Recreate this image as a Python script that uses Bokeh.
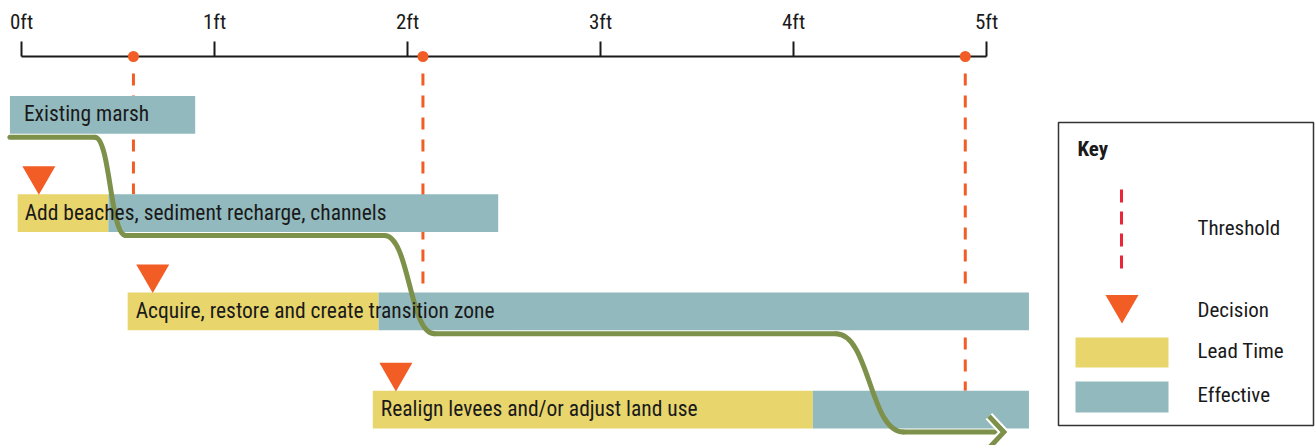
from bokeh.plotting import figure
from bokeh.models import Range1d
from bokeh.core.properties import value
from bokeh.embed import file_html
from bokeh.resources import INLINE

# ---------------- data ----------------
actions = ["Existing marsh",
           "Add beaches, sediment recharge, channels",
           "Acquire, restore and create transition zone",
           "Realign levees and/or adjust land use"]
lead_start = [None, -0.02, 0.55, 1.82]
lead_end = [None, 0.45, 1.85, 4.10]
effective_start = [-0.06, 0.45, 1.85, 4.10]
effective_end = [0.90, 2.47, 5.22, 5.22]
decision_at = [None, 0.09, 0.68, 1.94]
thresholds = [0.58, 2.08, 4.89]
tick_values = [0, 1, 2, 3, 4, 5]
tick_labels = ["0ft", "1ft", "2ft", "3ft", "4ft", "5ft"]
path_start = -0.06
drop_start = [0.38, 1.88, 4.22]
drop_end = [0.54, 2.14, 4.57]
path_end = 5.09
key_labels = ["Threshold", "Decision", "Lead Time", "Effective"]

# ---------------- style / layout ----------------
TEAL = "#92b9bd"
YELLOW = "#e8d56c"
ORANGE = "#f25c25"
GREEN = "#7d914b"
RED = "#e82638"
INK = "#1a1a1a"
FONT = value("Roboto Condensed")

W, H, M = 1315, 445, 0
X0, XS = 21.0, 193.0     # page px of 0 ft, px per ft
Y0, YS = 114.3, 98.3     # page px of row 0 centre, px per row
TDY = -7.5               # empirical baseline correction (px)


def fx(px):
    return (px - X0) / XS


def fy(py):
    return (py - Y0) / YS


def ty(py):
    return fy(py + TDY)


BAR_H = 37.8 / YS
rows = list(range(len(actions)))

p = figure(width=W, height=H, output_backend="svg", toolbar_location=None,
           x_range=Range1d(fx(M), fx(M + W)), y_range=Range1d(fy(M + H), fy(M)),
           min_border=0, outline_line_color=None,
           x_axis_location=None, y_axis_location=None)
p.xgrid.visible = False
p.ygrid.visible = False

# ---- top axis ----
axis_y = fy(56)
p.segment(x0=[min(tick_values)], y0=[axis_y], x1=[max(tick_values)], y1=[axis_y],
          line_color=INK, line_width=2)
p.segment(x0=tick_values, y0=[axis_y] * len(tick_values), x1=tick_values,
          y1=[axis_y - 15 / YS] * len(tick_values), line_color=INK, line_width=2)
p.text(x=tick_values, y=[ty(28.5)] * len(tick_values), text=tick_labels,
       text_align="center", text_baseline="alphabetic", text_font=FONT,
       text_font_size="21px", text_color=INK)

# ---- threshold lines (behind bars) ----
p.segment(x0=thresholds, y0=[fy(73)] * len(thresholds), x1=thresholds,
          y1=[r + 1 - BAR_H / 2 for r in range(len(thresholds))],
          line_color=ORANGE, line_width=3, line_dash="12 10")
p.scatter(x=thresholds, y=[axis_y] * len(thresholds), size=11,
          fill_color=ORANGE, line_color=None)

# ---- bars ----
lr = [r for r in rows if lead_start[r] is not None]
p.hbar(y=lr, left=[lead_start[r] for r in lr], right=[lead_end[r] for r in lr],
       height=BAR_H, fill_color=YELLOW, line_color=None)
p.hbar(y=rows, left=effective_start, right=effective_end,
       height=BAR_H, fill_color=TEAL, line_color=None)

# ---- decision triangles ----
dr = [r for r in rows if decision_at[r] is not None]
p.scatter(x=[decision_at[r] for r in dr], y=[r - 0.38 for r in dr],
          marker="inverted_triangle", size=33, fill_color=ORANGE, line_color=None)

# ---- path curve ----
off = BAR_H / 2 + 3.5 / YS
seg_x0 = [path_start] + drop_end[:-1]
seg_x1 = drop_start
p.segment(x0=seg_x0, y0=[r + off for r in range(len(seg_x0))],
          x1=seg_x1, y1=[r + off for r in range(len(seg_x1))],
          line_color=GREEN, line_width=5, line_cap="round")
mids = [(a + b) / 2 for a, b in zip(drop_start, drop_end)]
p.bezier(x0=drop_start, y0=[r + off for r in range(3)],
         x1=drop_end, y1=[r + 1 + off for r in range(3)],
         cx0=mids, cy0=[r + off for r in range(3)],
         cx1=mids, cy1=[r + 1 + off for r in range(3)],
         line_color=GREEN, line_width=5, line_cap="round")
last_y = len(actions) - 1 + off
p.segment(x0=[drop_end[-1]], y0=[last_y], x1=[path_end - 2 / XS], y1=[last_y],
          line_color=GREEN, line_width=5, line_cap="round")
ax, ay = 15 / XS, 16 / YS
head_x = [[path_end - ax, path_end, path_end - ax]]
head_y = [[last_y - ay, last_y, last_y + ay]]
p.multi_line(xs=head_x, ys=head_y, line_color="white", line_width=9,
             line_join="miter", line_cap="butt")
p.multi_line(xs=head_x, ys=head_y, line_color=GREEN, line_width=5,
             line_join="miter", line_cap="butt")

# ---- bar labels ----
label_left = [lead_start[r] if lead_start[r] is not None else effective_start[r] for r in rows]
p.text(x=label_left, y=[r + (6.5 + TDY) / YS for r in rows], text=actions,
       x_offset=[14, 7, 8, 8], text_baseline="alphabetic", text_font=FONT,
       text_font_size="21.5px", text_color=INK)

# ---- key ----
p.quad(left=[fx(1058)], right=[fx(1313)], top=[fy(122)], bottom=[fy(425)],
       fill_color=None, line_color="#333333", line_width=1.5)
p.text(x=[fx(1077)], y=[ty(156)], text=["Key"], text_font=FONT, text_font_size="21px",
       text_font_style="bold", text_baseline="alphabetic", text_color=INK)
p.segment(x0=[fx(1121)], y0=[fy(189)], x1=[fx(1121)], y1=[fy(269)],
          line_color=RED, line_width=3, line_dash="13 9")
p.scatter(x=[fx(1121.5)], y=[fy(304)], marker="inverted_triangle", size=33,
          fill_color=ORANGE, line_color=None)
p.quad(left=[fx(1075)] * 2, right=[fx(1168)] * 2, top=[fy(337), fy(381)],
       bottom=[fy(367), fy(412)], fill_color=[YELLOW, TEAL], line_color=None)
p.text(x=[fx(1197)] * 4, y=[ty(235), ty(317), ty(358), ty(402)], text=key_labels,
       text_font=FONT, text_font_size="21px", text_baseline="alphabetic", text_color=INK)

open("out.html", "w").write(file_html(p, INLINE))
